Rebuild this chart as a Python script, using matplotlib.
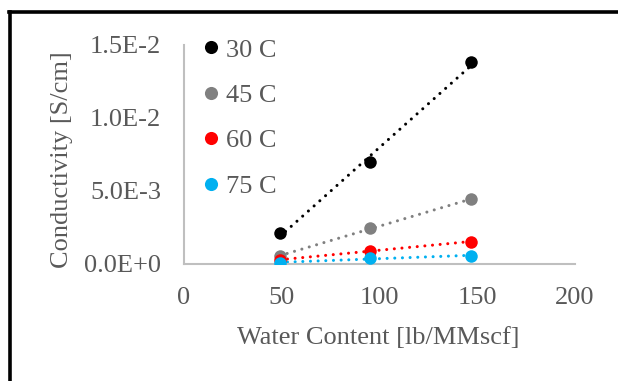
import numpy as np
import matplotlib
matplotlib.use("Agg")
import matplotlib.pyplot as plt
from matplotlib.lines import Line2D

# Data
water_content = [49, 95, 147]
series_labels = ["30 C", "45 C", "60 C", "75 C"]
cond_30 = [2.07e-3, 6.95e-3, 13.8e-3]
cond_45 = [0.51e-3, 2.42e-3, 4.41e-3]
cond_60 = [0.24e-3, 0.88e-3, 1.50e-3]
cond_75 = [0.05e-3, 0.36e-3, 0.54e-3]
series_values = [cond_30, cond_45, cond_60, cond_75]
colors = ["#000000", "#808080", "#FF0000", "#00B0F0"]

x_ticks = [0, 50, 100, 150, 200]
y_ticks = [0.0, 5.0e-3, 1.0e-2, 1.5e-2]
y_tick_labels = ["0.0E+0", "5.0E-3", "1.0E-2", "1.5E-2"]

plt.rcParams["font.family"] = ["Liberation Serif", "DejaVu Serif"]
text_color = "#595959"
fs = 19

fig = plt.figure(figsize=(6.18, 3.81), dpi=100)
ax = fig.add_axes([184 / 618, 1 - 263.5 / 381, (575 - 184) / 618, (263.5 - 45) / 381])

x = np.array(water_content, dtype=float)
handles = []
for vals, lab, c in zip(series_values, series_labels, colors):
    y = np.array(vals)
    k, b = np.polyfit(x, y, 1)
    xs = np.array([x.min(), x.max()])
    ax.plot(xs, k * xs + b, color=c, lw=2.2, linestyle=(0, (0.01, 2.5)),
            dash_capstyle="round", zorder=2)
    h, = ax.plot(x, y, "o", color=c, markersize=9, markeredgewidth=0, label=lab, zorder=3)
    handles.append(h)

ax.set_xlim(0, 200)
ax.set_ylim(0, 0.015)
ax.set_xticks(x_ticks)
ax.set_xticklabels([str(t) for t in x_ticks])
ax.set_yticks(y_ticks)
ax.set_yticklabels(y_tick_labels)
ax.tick_params(axis="y", length=0, labelsize=fs, colors=text_color, pad=16.5)
ax.tick_params(axis="x", length=0, labelsize=fs, colors=text_color, pad=17)
for s in ["top", "right"]:
    ax.spines[s].set_visible(False)
for s in ["left", "bottom"]:
    ax.spines[s].set_color("#BFBFBF")
    ax.spines[s].set_linewidth(1.5)

ax.set_xlabel("Water Content [lb/MMscf]", fontsize=fs, color=text_color)
ax.set_ylabel("Conductivity [S/cm]", fontsize=fs, color=text_color)
ax.xaxis.set_label_coords(0.497, -(327 - 263.5) / 218.5)
ax.yaxis.set_label_coords((73 - 184) / 391, (263.5 - 160) / 218.5)

leg = fig.legend(handles=handles, loc="upper left",
                 bbox_to_anchor=(190 / 618, 1 - 25 / 381),
                 frameon=False, fontsize=fs, labelcolor=text_color,
                 handlelength=0.6, handletextpad=0.25, labelspacing=0.83,
                 borderpad=0, markerscale=1.05)

# Figure border (black frame at top and left)
fig.add_artist(Line2D([10 / 618, 10 / 618], [0, 1 - 11.5 / 381], color="black", lw=2.6,
                      transform=fig.transFigure))
fig.add_artist(Line2D([8.7 / 618, 1], [1 - 11.5 / 381, 1 - 11.5 / 381], color="black", lw=2.6,
                      transform=fig.transFigure))

fig.savefig("out.png", dpi=100)
